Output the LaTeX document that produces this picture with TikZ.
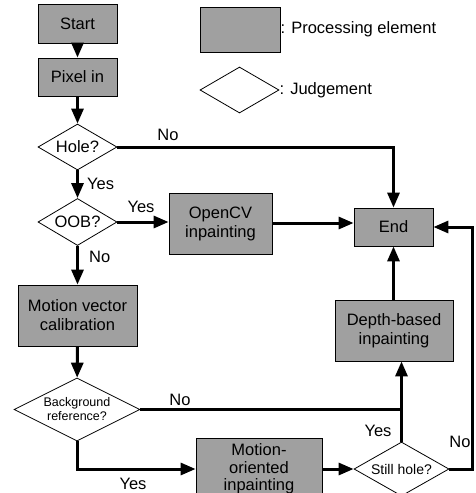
\documentclass[tikz,border=0pt]{standalone}
\usepackage{fontspec}
\setmainfont{Liberation Sans}
\usetikzlibrary{shapes.geometric,arrows.meta}
\definecolor{boxgray}{HTML}{A0A0A0}
\tikzset{
  procbox/.style={draw=black, line width=0.8pt, fill=boxgray, inner sep=0pt, align=center,
    font=\fontsize{16.5}{19}\selectfont},
  judge/.style={draw=black, line width=0.8pt, fill=white, shape=diamond, inner sep=0pt, align=center,
    font=\fontsize{16.5}{19}\selectfont},
  conn/.style={line width=3pt, -{Triangle[length=15pt,width=12pt]}},
  plainconn/.style={line width=3pt},
  lbl/.style={font=\fontsize{16.5}{19}\selectfont, inner sep=0pt}
}
\begin{document}
\begin{tikzpicture}[x=1pt,y=-1pt]
\useasboundingbox (0,0) rectangle (475,493);
\clip (0,0) rectangle (475,493);
% legend
\node[procbox, minimum width=80pt, minimum height=45pt] (lbox) at (240,29.5) {};
\node[lbl, anchor=west] (ltext1) at (lbox.east) {: Processing element};
\node[judge, minimum width=79pt, minimum height=46pt, aspect=1.7] (ldia) at (239.5,90) {};
\node[lbl, anchor=west] (ltext2) at (ldia.east) {: Judgement};
% nodes
\node[procbox, minimum width=79pt, minimum height=39pt] (start) at (77.5,23.5) {Start};
\node[procbox, minimum width=79pt, minimum height=38pt] (pixel) at (77.5,77) {Pixel in};
\node[judge, minimum width=79pt, minimum height=46pt, aspect=1.7] (hole) at (77.5,147) {Hole?};
\node[judge, minimum width=79pt, minimum height=47pt, aspect=1.7] (oob) at (77.5,222) {OOB?};
\node[procbox, minimum width=103pt, minimum height=61pt] (opencv) at (220.5,223.5) {OpenCV\\inpainting};
\node[procbox, minimum width=79pt, minimum height=38pt] (end) at (393.5,227) {End};
\node[procbox, minimum width=119pt, minimum height=61pt] (mvc) at (77.5,315.5) {Motion vector\\calibration};
\node[judge, minimum width=126pt, minimum height=63pt, aspect=2,
  font=\fontsize{12.5}{14}\selectfont] (bg) at (77,409.5) {Background\\reference?};
\node[procbox, minimum width=118pt, minimum height=61pt] (depth) at (394,330.5) {Depth-based\\inpainting};
\node[procbox, minimum width=126pt, minimum height=62pt,
  font=\fontsize{16.5}{17.5}\selectfont] (motion) at (259,469) {Motion-\\oriented\\inpainting};
\node[judge, minimum width=95pt, minimum height=54pt, aspect=1.76,
  font=\fontsize{14}{16}\selectfont] (still) at (401.5,469) {Still hole?};
\coordinate (join) at (402,409.5);
\coordinate (r1) at (472,469);
\coordinate (r2) at (472,227);
% connectors
\draw[conn] (start) -- (pixel);
\draw[conn] (pixel) -- (hole);
\draw[conn] (hole) -- (oob);
\draw[conn] (hole.east) -| (end.north);
\draw[conn] (oob.east) -- (opencv.west |- oob.east);
\draw[conn] ([yshift=0.5pt]opencv.east) -- ([yshift=0.5pt]end.west |- opencv.east);
\draw[conn] (oob) -- (mvc);
\draw[conn] (mvc) -- (bg);
\draw[plainconn] (bg.east) -- (join);
\draw[conn] (still.north) -- (still.north |- depth.south);
\draw[conn] (depth.north -| end) -- (end.south);
\draw[conn] (still.east) -- (r1) -- (r2) -- (end.east);
\draw[conn] (bg.south) |- (motion.west);
\draw[conn] (motion.east) -- (still.west);
% labels
\node[lbl] (lno1) at (168,135) {No};
\node[lbl, anchor=west] (lyes1) at (87,184) {Yes};
\node[lbl] (lyes2) at (141,207) {Yes};
\node[lbl, anchor=west] (lno2) at (89,257) {No};
\node[lbl] (lno3) at (180,400) {No};
\node[lbl] (lyes3) at (378,431) {Yes};
\node[lbl] (lno4) at (460,442) {No};
\node[lbl] (lyes4) at (133,484) {Yes};
\end{tikzpicture}
\end{document}
